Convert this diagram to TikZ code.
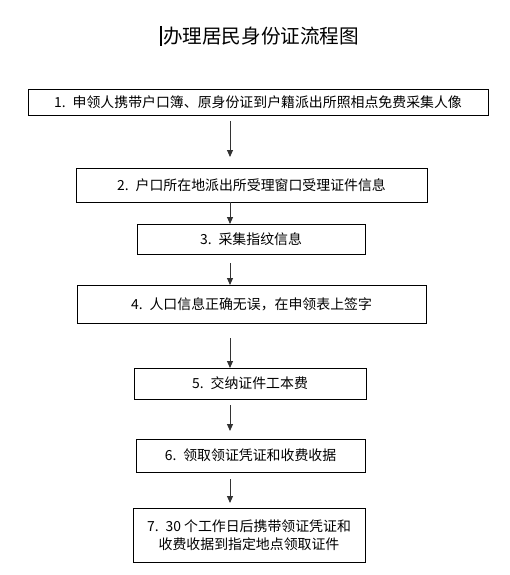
\documentclass[tikz,border=0pt]{standalone}
\usepackage{fontspec}
\newfontfamily\cjk{Noto Sans CJK SC}
\usetikzlibrary{arrows.meta}
\begin{document}
\begin{tikzpicture}[x=1pt,y=-1pt,
  stepbox/.style={draw=black,line width=0.9pt,inner sep=0pt,anchor=center,
    font=\cjk\fontsize{13.9}{18}\selectfont,align=center},
  arr/.style={draw=black!80,line width=0.9pt,-{Triangle[width=6pt,length=7pt]}},
  cursorbar/.style={line width=2.2pt,black}]
\useasboundingbox (0,0) rectangle (510,575);
\node[font=\cjk\fontsize{19.6}{22}\selectfont,anchor=center] (title) at (261,36) {办理居民身份证流程图};
\coordinate (cur1) at (161,26);
\coordinate (cur2) at (161,46);
\draw[cursorbar] (cur1) -- (cur2);

\node[stepbox,minimum width=460pt,minimum height=26pt] (b1) at (258,102) {1.\hspace{0.5em}申领人携带户口簿、原身份证到户籍派出所照相点免费采集人像};
\node[stepbox,minimum width=351pt,minimum height=34pt] (b2) at (251.5,185) {2.\hspace{0.5em}户口所在地派出所受理窗口受理证件信息};
\node[stepbox,minimum width=228pt,minimum height=30pt] (b3) at (251,239) {3.\hspace{0.5em}采集指纹信息};
\node[stepbox,minimum width=349pt,minimum height=38pt] (b4) at (251.5,304) {4.\hspace{0.5em}人口信息正确无误，在申领表上签字};
\node[stepbox,minimum width=232pt,minimum height=31pt] (b5) at (250,383.5) {5.\hspace{0.5em}交纳证件工本费};
\node[stepbox,minimum width=229pt,minimum height=33pt] (b6) at (250.5,455.5) {6.\hspace{0.5em}领取领证凭证和收费收据};
\node[stepbox,minimum width=232pt,minimum height=54pt] (b7) at (249,535) {7.\hspace{0.5em}30 个工作日后携带领证凭证和\\收费收据到指定地点领取证件};

\coordinate (a1s) at (230,121); \coordinate (a1e) at (230,157);
\coordinate (a2s) at (230,202); \coordinate (a2e) at (230,224);
\coordinate (a3s) at (230,263); \coordinate (a3e) at (230,285);
\coordinate (a4s) at (230,338); \coordinate (a4e) at (230,368);
\coordinate (a5s) at (230,405); \coordinate (a5e) at (230,431);
\coordinate (a6s) at (230,479); \coordinate (a6e) at (230,503);
\draw[arr] (a1s) -- (a1e);
\draw[arr] (a2s) -- (a2e);
\draw[arr] (a3s) -- (a3e);
\draw[arr] (a4s) -- (a4e);
\draw[arr] (a5s) -- (a5e);
\draw[arr] (a6s) -- (a6e);
\end{tikzpicture}
\end{document}
